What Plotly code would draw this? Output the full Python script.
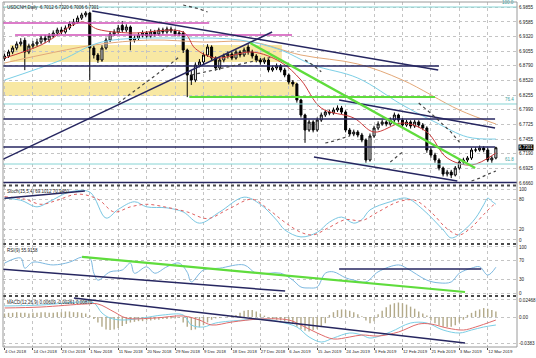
import plotly.graph_objects as go

# ------------------------------------------------------------------ data
bar_index = list(range(122))

open_ = [
    6.8920, 6.8966, 6.9038, 6.9111, 6.9184, 6.9250, 6.9038, 6.9147, 6.9184, 6.9220,
    6.9292, 6.9256, 6.9329, 6.9383, 6.9438, 6.9401, 6.9474, 6.9546, 6.9583, 6.9655,
    6.9710, 6.9746, 6.9111, 6.8984, 6.8893, 6.9111, 6.9256, 6.9365, 6.9401, 6.9520,
    6.9438, 6.9492, 6.9256, 6.9292, 6.9347, 6.9383, 6.9329, 6.9401, 6.9365, 6.9438,
    6.9401, 6.9456, 6.9419, 6.9365, 6.9383, 6.9075, 6.8621, 6.8530, 6.8802, 6.8857,
    6.8984, 6.9129, 6.8929, 6.8748, 6.8893, 6.8966, 6.9002, 6.8929, 6.9038, 6.8984,
    6.9129, 6.9038, 6.8966, 6.8893, 6.8857, 6.8893, 6.8712, 6.8748, 6.8784, 6.8712,
    6.8621, 6.8494, 6.8458, 6.8167, 6.7895, 6.7623, 6.7768, 6.7623, 6.7804, 6.7895,
    6.7949, 6.7931, 6.7986, 6.8022, 6.7949, 6.7623, 6.7550, 6.7586, 6.7532, 6.7441,
    6.7078, 6.7514, 6.7659, 6.7732, 6.7768, 6.7732, 6.7804, 6.7895, 6.7804, 6.7713,
    6.7768, 6.7695, 6.7768, 6.7713, 6.7659, 6.7260, 6.7169, 6.7078, 6.6933, 6.6824,
    6.6860, 6.6806, 6.6933, 6.7042, 6.7078, 6.7115, 6.7260, 6.7260, 6.7296, 6.7260,
    6.7078, 6.7115]
high = [
    6.9010, 6.9080, 6.9150, 6.9230, 6.9290, 6.9300, 6.9190, 6.9240, 6.9280, 6.9340,
    6.9350, 6.9380, 6.9430, 6.9480, 6.9490, 6.9520, 6.9590, 6.9640, 6.9700, 6.9750,
    6.9780, 6.9770, 6.9150, 6.9020, 6.9160, 6.9300, 6.9410, 6.9450, 6.9530, 6.9600,
    6.9540, 6.9520, 6.9340, 6.9390, 6.9430, 6.9420, 6.9450, 6.9440, 6.9480, 6.9480,
    6.9500, 6.9500, 6.9460, 6.9430, 6.9420, 6.9100, 6.8700, 6.8850, 6.8910, 6.9030,
    6.9180, 6.9160, 6.8960, 6.8940, 6.9010, 6.9050, 6.9040, 6.9080, 6.9070, 6.9120,
    6.9180, 6.9080, 6.9000, 6.8930, 6.8940, 6.8920, 6.8790, 6.8830, 6.8820, 6.8750,
    6.8650, 6.8530, 6.8480, 6.8190, 6.7920, 6.7810, 6.7800, 6.7850, 6.7940, 6.7990,
    6.7990, 6.8030, 6.8070, 6.8060, 6.7980, 6.7660, 6.7630, 6.7620, 6.7570, 6.7470,
    6.7560, 6.7700, 6.7780, 6.7810, 6.7800, 6.7850, 6.7940, 6.7920, 6.7840, 6.7810,
    6.7800, 6.7810, 6.7800, 6.7750, 6.7690, 6.7300, 6.7210, 6.7110, 6.6960, 6.6900,
    6.6900, 6.6970, 6.7080, 6.7120, 6.7150, 6.7300, 6.7310, 6.7340, 6.7330, 6.7300,
    6.7150, 6.7320]
low = [
    6.8880, 6.8930, 6.9000, 6.9070, 6.9140, 6.8710, 6.9000, 6.9100, 6.9140, 6.9180,
    6.9200, 6.9210, 6.9290, 6.9340, 6.9360, 6.9370, 6.9440, 6.9510, 6.9550, 6.9620,
    6.9670, 6.8530, 6.8920, 6.8840, 6.8860, 6.9080, 6.9220, 6.9330, 6.9370, 6.9400,
    6.9400, 6.9070, 6.9210, 6.9250, 6.9300, 6.9290, 6.9290, 6.9320, 6.9330, 6.9360,
    6.9370, 6.9380, 6.9320, 6.9330, 6.9020, 6.8220, 6.8440, 6.8490, 6.8760, 6.8820,
    6.8950, 6.8880, 6.8700, 6.8710, 6.8850, 6.8920, 6.8890, 6.8900, 6.8940, 6.8950,
    6.8990, 6.8920, 6.8850, 6.8810, 6.8820, 6.8670, 6.8680, 6.8710, 6.8670, 6.8580,
    6.8450, 6.8410, 6.8120, 6.7850, 6.7390, 6.7590, 6.7580, 6.7590, 6.7770, 6.7860,
    6.7890, 6.7900, 6.7950, 6.7910, 6.7580, 6.7510, 6.7510, 6.7490, 6.7400, 6.7030,
    6.7050, 6.7480, 6.7620, 6.7700, 6.7690, 6.7700, 6.7770, 6.7760, 6.7670, 6.7680,
    6.7650, 6.7660, 6.7670, 6.7620, 6.7210, 6.7120, 6.7030, 6.6890, 6.6780, 6.6780,
    6.6750, 6.6780, 6.6900, 6.7000, 6.7040, 6.7080, 6.7220, 6.7230, 6.7220, 6.7040,
    6.7030, 6.7090]
close = [
    6.8966, 6.9038, 6.9111, 6.9184, 6.9220, 6.9038, 6.9147, 6.9184, 6.9220, 6.9292,
    6.9256, 6.9329, 6.9383, 6.9438, 6.9401, 6.9474, 6.9546, 6.9583, 6.9655, 6.9710,
    6.9746, 6.9111, 6.8984, 6.8893, 6.9111, 6.9256, 6.9365, 6.9401, 6.9474, 6.9438,
    6.9492, 6.9256, 6.9292, 6.9347, 6.9383, 6.9329, 6.9401, 6.9365, 6.9438, 6.9401,
    6.9456, 6.9419, 6.9365, 6.9383, 6.9075, 6.8621, 6.8530, 6.8802, 6.8857, 6.8984,
    6.9129, 6.8929, 6.8748, 6.8893, 6.8966, 6.9002, 6.8929, 6.9038, 6.8984, 6.9075,
    6.9038, 6.8966, 6.8893, 6.8857, 6.8893, 6.8712, 6.8748, 6.8784, 6.8712, 6.8621,
    6.8494, 6.8458, 6.8167, 6.7895, 6.7623, 6.7768, 6.7623, 6.7804, 6.7895, 6.7949,
    6.7931, 6.7986, 6.8022, 6.7949, 6.7623, 6.7550, 6.7586, 6.7532, 6.7441, 6.7078,
    6.7514, 6.7659, 6.7732, 6.7768, 6.7732, 6.7804, 6.7895, 6.7804, 6.7713, 6.7768,
    6.7695, 6.7768, 6.7713, 6.7659, 6.7260, 6.7169, 6.7078, 6.6933, 6.6824, 6.6860,
    6.6806, 6.6933, 6.7042, 6.7078, 6.7115, 6.7260, 6.7260, 6.7296, 6.7260, 6.7078,
    6.7115, 6.7301]

date_tick_bars = [0, 7, 14, 21, 28, 35, 42, 49, 56, 63, 70, 77, 84, 91, 98, 105, 112, 119]
date_tick_labels = ["4 Oct 2018", "14 Oct 2018", "23 Oct 2018", "1 Nov 2018", "11 Nov 2018",
                    "20 Nov 2018", "29 Nov 2018", "9 Dec 2018", "18 Dec 2018", "27 Dec 2018",
                    "6 Jan 2019", "15 Jan 2019", "24 Jan 2019", "3 Feb 2019", "12 Feb 2019",
                    "21 Feb 2019", "3 Mar 2019", "12 Mar 2019"]
price_ticks = [6.9855, 6.9585, 6.9320, 6.9055, 6.8790, 6.8520, 6.8255, 6.7990,
               6.7725, 6.7455, 6.7190, 6.6925, 6.6660]
price_tick_labels = ["6.9855", "6.9585", "6.9320", "6.9055", "6.8790", "6.8520", "6.8255",
                     "6.7990", "6.7725", "6.7455", "6.7190", "6.6925", "6.6660"]
last_price = 6.7301

# moving averages
ma_fast_bars = [0, 9, 19, 23, 31, 44, 47, 52, 61, 68, 73, 78, 86, 91, 98, 104, 109, 115, 121]
ma_fast_vals = [6.8929, 6.9165, 6.9583, 6.9450, 6.9383, 6.9401, 6.9100, 6.8929, 6.9038, 6.8857,
                6.8530, 6.8022, 6.7841, 6.7586, 6.7750, 6.7586, 6.7115, 6.6988, 6.7205]
ma_mid_bars = [0, 14, 24, 44, 58, 68, 76, 87, 98, 106, 114, 121]
ma_mid_vals = [6.8530, 6.8893, 6.9220, 6.9292, 6.9256, 6.9075, 6.8802, 6.8566, 6.8076,
               6.7768, 6.7496, 6.7459]
ma_slow_bars = [0, 9, 22, 36, 49, 61, 73, 87, 98, 112, 121]
ma_slow_vals = [6.8839, 6.8984, 6.9165, 6.9256, 6.9220, 6.9220, 6.8984, 6.8821, 6.8530,
                6.7986, 6.7732]

# dotted (SAR-like) sequences: bars and values
dots_bars = [[28, 32, 36, 40, 43], [46, 51, 56, 61, 66], [44, 46, 48, 50],
             [74, 76, 78], [79, 81, 83, 85], [95, 96, 97, 98],
             [102, 104, 106, 108, 110, 112], [115, 117, 119, 121]]
dots_vals = [[6.8113, 6.8330, 6.8550, 6.8770, 6.8948], [6.8621, 6.8700, 6.8790, 6.8870, 6.8948],
             [6.9891, 6.9860, 6.9820, 6.9764], [6.8893, 6.8800, 6.8680],
             [6.7387, 6.7420, 6.7470, 6.7514], [6.7042, 6.7100, 6.7160, 6.7224],
             [6.8113, 6.7990, 6.7860, 6.7720, 6.7580, 6.7405], [6.6697, 6.6750, 6.6820, 6.6879]]

# trend / support lines on the price panel: [bar0, val0, bar1, val1]
navy_lines = [[21.6, 6.9782, 106.8, 6.8712],
              [-1.0, 6.7070, 65.9, 6.9401],
              [-1.0, 6.8784, 107.0, 6.8784],
              [-1.0, 6.7822, 120.8, 6.7822],
              [-1.0, 6.7314, 120.8, 6.7314],
              [82.4, 6.8167, 120.8, 6.7659],
              [76.2, 6.7133, 111.5, 6.6697],
              [-1.0, 6.6668, 126.5, 6.6668]]
magenta_lines = [[-1.0, 6.9565, 50.4, 6.9565], [2.6, 6.9347, 70.8, 6.9347]]
green_lines = [[60.5, 6.9202, 115.9, 6.6933], [45.5, 6.8222, 106.0, 6.8222]]
fib_levels = [6.9855, 6.8095, 6.7006]
fib_labels = ["100.0", "76.4", "61.8"]
yellow_zones = [[1.4, 6.8857, 68.3, 6.9165], [-1.0, 6.8240, 72.0, 6.8494]]

# Stochastic (15,5,4)
stoch_k_bars = [0, 4, 8, 11, 16, 21, 25, 28, 32, 35, 40, 44, 48, 53, 59, 63, 67, 69, 73, 77,
                80, 83, 86, 88, 90, 95, 99, 103, 108, 110, 113, 116, 118, 119, 120, 121]
stoch_k_vals = [82, 78, 65, 75, 94, 94, 43, 60, 75, 65, 63, 55, 33, 55, 84, 70, 39, 20, 6, 15,
                35, 45, 33, 40, 59, 75, 82, 60, 20, 4, 18, 43, 69, 82, 76, 70]
stoch_d_bars = [0, 5, 9, 13, 18, 23, 27, 31, 35, 40, 45, 50, 55, 61, 65, 69, 73, 76, 80, 84,
                88, 92, 97, 101, 105, 109, 112, 115, 118, 120, 121]
stoch_d_vals = [85, 80, 70, 78, 90, 80, 55, 65, 70, 64, 55, 42, 60, 80, 60, 35, 15, 10, 25, 40,
                38, 55, 75, 78, 55, 22, 10, 25, 50, 66, 72]
stoch_line = [0, 82, 19.8, 96]

# RSI(9)
rsi_bars = [0, 4, 5, 7, 12, 16, 19, 21, 22, 23, 26, 29, 31, 32, 35, 37, 40, 43, 45, 46, 49, 53,
            59, 62, 68, 71, 73, 75, 77, 79, 81, 84, 86, 89, 92, 97, 99, 104, 107, 110, 112, 115,
            117, 119, 121]
rsi_vals = [65, 76, 54, 67, 61, 67, 78, 76, 43, 28, 46, 50, 65, 43, 57, 43, 57, 65, 45, 24, 50,
            54, 61, 43, 43, 28, 13, 11, 13, 43, 46, 33, 28, 24, 46, 61, 54, 28, 22, 24, 43, 54,
            57, 39, 56]
rsi_green_line = [19.1, 78.3, 113.4, 2.2]
rsi_navy_lines = [[-1.0, 52.2, 69.1, 4.3], [82.4, 52.2, 117.4, 52.2]]

# MACD(12,26,9)
macd_bars = [0, 9, 19, 22, 24, 26, 29, 34, 39, 44, 46, 49, 52, 59, 64, 68, 72, 75, 78, 81, 85,
             88, 90, 95, 100, 104, 108, 112, 115, 118, 121]
macd_vals = [0.0160, 0.0174, 0.0218, 0.0203, 0.0058, -0.0015, -0.0044, -0.0015, 0.0029, 0.0029,
             -0.0116, -0.0145, -0.0087, -0.0044, -0.0029, -0.0073, -0.0145, -0.0290, -0.0363,
             -0.0305, -0.0232, -0.0261, -0.0305, -0.0218, -0.0087, -0.0087, -0.0189, -0.0232,
             -0.0189, -0.0145, -0.0116]
signal_bars = [0, 9, 20, 23, 27, 30, 37, 44, 48, 51, 56, 63, 70, 73, 77, 81, 85, 88, 92, 97,
               102, 105, 109, 113, 116, 121]
signal_vals = [0.0131, 0.0145, 0.0189, 0.0189, 0.0073, -0.0015, -0.0015, 0.0015, -0.0044,
               -0.0116, -0.0073, -0.0029, -0.0044, -0.0116, -0.0232, -0.0319, -0.0290, -0.0261,
               -0.0276, -0.0218, -0.0102, -0.0102, -0.0160, -0.0189, -0.0145, -0.0044]
macd_hist = [v / 1000 for v in [
    5, 6, 6, 7, 6, 6, 5, 6, 6, 7, 7, 6, 6, 7, 7, 8, 8, 7, 7, 6, 5,
    2, -3, -8,
    -14, -18, -19, -18, -16, -13, -10,
    -8, -7, -6, -6, -5, -5, -4, -4, -3, -3, -2, -2, -1,
    -8, -14, -19, -18, -15, -12, -8,
    -4, -2, -1, 0, 1, 2, 3,
    6, 9, 10, 10, 8, 5, 2,
    -1, -3, -4, -5, -6, -8, -10,
    -14, -18, -20, -21, -19, -17, -13, -9,
    3, 7, 10, 11, 10, 9, 7, 4, 1,
    -5, -9, -6,
    4, 9, 14, 18, 20, 21, 20, 18, 15, 12, 8, 5, 2,
    -5, -9, -12, -14, -15, -14, -12, -8, -4,
    3, 6, 9, 11, 13, 12, 10, 8]]
macd_line = [17.1, 0.0276, 113.4, -0.0377]

title_text = "USDCNH,Daily  6.7012 6.7320 6.7006 6.7301"
stoch_text = "Stoch(15,5,4) 69.1012 70.9460"
rsi_text = "RSI(9) 55.9158"
macd_text = "MACD(12,26,9) 0.00609 -0.00261 0.00870"

# ------------------------------------------------------------------ layout helpers
W, H = 536, 358
ML, MR, MT, MB = 3, 19, 2, 11
PH = H - MT - MB


def py(pix):
    return (H - MB - pix) / PH


FONT = "Liberation Sans"
NAVY = "#262660"
GRID = "#c4c4c4"

fig = go.Figure()

fig.add_trace(go.Candlestick(
    x=bar_index, open=open_, high=high, low=low, close=close,
    increasing=dict(line=dict(color="black", width=1), fillcolor="white"),
    decreasing=dict(line=dict(color="black", width=1), fillcolor="black"),
    whiskerwidth=0, xaxis="x", yaxis="y", showlegend=False, hoverinfo="skip"))

for bars, vals, col in [(ma_slow_bars, ma_slow_vals, "#e3a878"),
                        (ma_mid_bars, ma_mid_vals, "#7ccfe6"),
                        (ma_fast_bars, ma_fast_vals, "#cc3b3b")]:
    fig.add_trace(go.Scatter(x=bars, y=vals, mode="lines", line=dict(color=col, width=1, shape="spline"),
                             xaxis="x", yaxis="y", showlegend=False, hoverinfo="skip"))

for lvl in fib_levels:
    fig.add_trace(go.Scatter(x=[-1, 127], y=[lvl, lvl], mode="lines",
                             line=dict(color="#86d4d4", width=1),
                             xaxis="x", yaxis="y", showlegend=False, hoverinfo="skip"))

for seg in magenta_lines:
    fig.add_trace(go.Scatter(x=[seg[0], seg[2]], y=[seg[1], seg[3]], mode="lines",
                             line=dict(color="#d050b8", width=1.5),
                             xaxis="x", yaxis="y", showlegend=False, hoverinfo="skip"))
for seg in navy_lines:
    fig.add_trace(go.Scatter(x=[seg[0], seg[2]], y=[seg[1], seg[3]], mode="lines",
                             line=dict(color=NAVY, width=1.5),
                             xaxis="x", yaxis="y", showlegend=False, hoverinfo="skip"))
for seg in green_lines:
    fig.add_trace(go.Scatter(x=[seg[0], seg[2]], y=[seg[1], seg[3]], mode="lines",
                             line=dict(color="#5fdc3c", width=2.2),
                             xaxis="x", yaxis="y", showlegend=False, hoverinfo="skip"))
for bars, vals in zip(dots_bars, dots_vals):
    fig.add_trace(go.Scatter(x=bars, y=vals, mode="lines",
                             line=dict(color="#444444", width=1.2, dash="dot"),
                             xaxis="x", yaxis="y", showlegend=False, hoverinfo="skip"))

# Stochastic
fig.add_trace(go.Scatter(x=stoch_k_bars, y=stoch_k_vals, mode="lines",
                         line=dict(color="#79c6e2", width=1, shape="spline"),
                         xaxis="x2", yaxis="y2", showlegend=False, hoverinfo="skip"))
fig.add_trace(go.Scatter(x=stoch_d_bars, y=stoch_d_vals, mode="lines",
                         line=dict(color="#e06060", width=1, dash="dot", shape="spline"),
                         xaxis="x2", yaxis="y2", showlegend=False, hoverinfo="skip"))
fig.add_trace(go.Scatter(x=[stoch_line[0], stoch_line[2]], y=[stoch_line[1], stoch_line[3]],
                         mode="lines", line=dict(color=NAVY, width=1.5),
                         xaxis="x2", yaxis="y2", showlegend=False, hoverinfo="skip"))

# RSI
fig.add_trace(go.Scatter(x=rsi_bars, y=rsi_vals, mode="lines",
                         line=dict(color="#7cb8e0", width=1, shape="spline"),
                         xaxis="x3", yaxis="y3", showlegend=False, hoverinfo="skip"))
fig.add_trace(go.Scatter(x=[rsi_green_line[0], rsi_green_line[2]],
                         y=[rsi_green_line[1], rsi_green_line[3]], mode="lines",
                         line=dict(color="#5fdc3c", width=2.2),
                         xaxis="x3", yaxis="y3", showlegend=False, hoverinfo="skip"))
for seg in rsi_navy_lines:
    fig.add_trace(go.Scatter(x=[seg[0], seg[2]], y=[seg[1], seg[3]], mode="lines",
                             line=dict(color=NAVY, width=1.5),
                             xaxis="x3", yaxis="y3", showlegend=False, hoverinfo="skip"))

# MACD
fig.add_trace(go.Bar(x=bar_index, y=macd_hist, marker=dict(color="#b3aa8a", line=dict(width=0)),
                     width=0.35, xaxis="x4", yaxis="y4", showlegend=False, hoverinfo="skip"))
fig.add_trace(go.Scatter(x=macd_bars, y=macd_vals, mode="lines",
                         line=dict(color="#7ccfe6", width=1, shape="spline"),
                         xaxis="x4", yaxis="y4", showlegend=False, hoverinfo="skip"))
fig.add_trace(go.Scatter(x=signal_bars, y=signal_vals, mode="lines",
                         line=dict(color="#e06a6a", width=1, shape="spline"),
                         xaxis="x4", yaxis="y4", showlegend=False, hoverinfo="skip"))
fig.add_trace(go.Scatter(x=[macd_line[0], macd_line[2]], y=[macd_line[1], macd_line[3]],
                         mode="lines", line=dict(color=NAVY, width=1.5),
                         xaxis="x4", yaxis="y4", showlegend=False, hoverinfo="skip"))

# ------------------------------------------------------------------ axes
x_range = [-0.37, 126.2]
tickfont = dict(family=FONT, size=4.6, color="#222222")
xcommon = dict(range=x_range, tickmode="array", tickvals=date_tick_bars, ticktext=date_tick_labels,
               showgrid=True, gridcolor=GRID, griddash="dot", gridwidth=1, zeroline=False,
               showline=False, fixedrange=True, tickangle=0)
ycommon = dict(side="right", showgrid=True, gridcolor=GRID, griddash="dot", gridwidth=1,
               zeroline=False, tickfont=tickfont, ticks="", fixedrange=True, showline=False,
               ticklabelstandoff=1)

layout = dict(
    width=W, height=H, margin=dict(l=ML, r=MR, t=MT, b=MB, autoexpand=False),
    paper_bgcolor="white", plot_bgcolor="white", showlegend=False, bargap=0.6,
    xaxis=dict(**xcommon, anchor="y", showticklabels=False, rangeslider=dict(visible=False)),
    xaxis2=dict(**xcommon, anchor="y2", matches="x", showticklabels=False),
    xaxis3=dict(**xcommon, anchor="y3", matches="x", showticklabels=False),
    xaxis4=dict(**xcommon, anchor="y4", matches="x", showticklabels=True,
                ticklabelposition="outside right", ticks="outside", ticklen=2,
                tickcolor="#444", tickfont=dict(family=FONT, size=4.3, color="#222222"),
                ticklabelstandoff=0),
    yaxis=dict(**ycommon, domain=[py(184), py(MT)], range=[6.6643, 6.9946],
               tickmode="array", tickvals=price_ticks, ticktext=price_tick_labels, anchor="x"),
    yaxis2=dict(**ycommon, domain=[py(243), py(186)], range=[-5.9, 105.9],
                tickmode="array", tickvals=[0, 20, 80, 100], ticktext=["0", "20", "80", "100"], anchor="x2"),
    yaxis3=dict(**ycommon, domain=[py(295), py(245)], range=[-4.3, 104.3],
                tickmode="array", tickvals=[0, 30, 70, 100], ticktext=["0", "30", "70", "100"], anchor="x3"),
    yaxis4=dict(**ycommon, domain=[0, py(297)], range=[-0.0435, 0.0290],
                tickmode="array", tickvals=[-0.0383, 0, 0.02468],
                ticktext=["-0.0383", "0.00", "0.02468"], anchor="x4"),
)
fig.update_layout(**layout)

shapes = []
for z in yellow_zones:
    shapes.append(dict(type="rect", xref="x", yref="y", x0=z[0], x1=z[2], y0=z[1], y1=z[3],
                       fillcolor="#f6e28c", opacity=0.8, line=dict(width=0), layer="below"))
# panel separators
for pix in [185.5, 244, 296]:
    shapes.append(dict(type="line", xref="paper", yref="paper", x0=0, x1=1, y0=py(pix), y1=py(pix),
                       line=dict(color="#4a4a4a", width=2, dash="dot")))
# frame
shapes.append(dict(type="rect", xref="paper", yref="paper", x0=0, x1=1, y0=0, y1=1,
                   line=dict(color="#9a9a9a", width=1)))
fig.update_layout(shapes=shapes)

ann = []
small = dict(family=FONT, size=4.5, color="#222222")
ann.append(dict(text=title_text, xref="paper", yref="paper", x=0.004, y=py(3), xanchor="left",
                yanchor="top", showarrow=False, font=small))
ann.append(dict(text=stoch_text, xref="paper", yref="paper", x=0.004, y=py(186.5), xanchor="left",
                yanchor="top", showarrow=False, font=small))
ann.append(dict(text=rsi_text, xref="paper", yref="paper", x=0.004, y=py(245.5), xanchor="left",
                yanchor="top", showarrow=False, font=small))
ann.append(dict(text=macd_text, xref="paper", yref="paper", x=0.004, y=py(297.5), xanchor="left",
                yanchor="top", showarrow=False, font=small))
for lvl, lab in zip(fib_levels, fib_labels):
    ann.append(dict(text=lab, xref="paper", yref="y", x=0.998, y=lvl, xanchor="right",
                    yanchor="bottom", showarrow=False, font=dict(family=FONT, size=4.5, color="#3aa0a0")))
ann.append(dict(text=f"{last_price:.4f}", xref="paper", yref="y", x=1, y=last_price, xanchor="left",
                yanchor="middle", xshift=1, showarrow=False, bgcolor="black", borderpad=0,
                font=dict(family=FONT, size=4.5, color="white")))
fig.update_layout(annotations=ann)

fig.write_html("out.html", config={"displayModeBar": False, "staticPlot": True},
               post_script="document.body.style.margin='0px';document.body.style.overflow='hidden';")
